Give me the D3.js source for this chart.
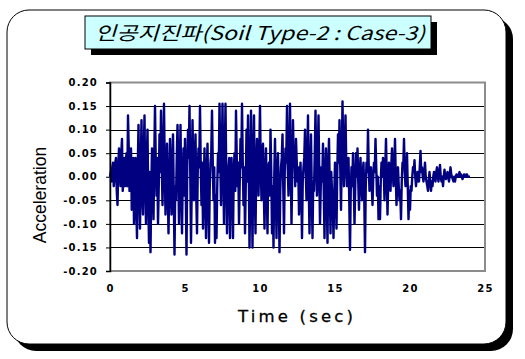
<!DOCTYPE html>
<html><head><meta charset="utf-8">
<script src="https://cdn.jsdelivr.net/npm/d3@7"></script>
<style>
html,body{margin:0;padding:0;background:#fff;}
svg{display:block;}
</style></head>
<body>
<svg id="c" width="525" height="359"></svg>
<script>
// ---- data ----
const titleText = "인공지진파(Soil Type-2 : Case-3)";
const xLabel = "Time (sec)";
const yLabel = "Acceleration";
const xTicks = [0, 5, 10, 15, 20, 25];
const yTicks = [-0.20, -0.15, -0.10, -0.05, 0.00, 0.05, 0.10, 0.15, 0.20];
const dt = 0.05; // seconds between samples
const accel = [
  // 0 s
  0.00, 0.01, -0.01, 0.02, 0.03, -0.02, 0.00, 0.03, 0.04, -0.03, -0.06, 0.02, 0.06, 0.03, -0.02, 0.05, 0.08, -0.03, 0.01, 0.04,
  // 1 s
  -0.02, 0.03, 0.05, -0.02, 0.13, 0.06, -0.03, 0.02, 0.06, -0.07, -0.05, 0.04, -0.10, -0.04, 0.04, -0.06, -0.13, 0.02, 0.11, -0.03,
  // 2 s
  -0.11, 0.02, 0.12, -0.04, -0.08, 0.05, 0.13, -0.02, -0.10, 0.03, 0.10, -0.05, -0.14, 0.01, -0.16, -0.03, 0.06, 0.02, -0.09, 0.04,
  // 3 s
  0.15, 0.03, -0.04, 0.04, -0.10, -0.02, 0.09, 0.01, 0.14, 0.03, -0.06, 0.04, 0.155, 0.02, -0.08, -0.01, 0.07, -0.03, -0.12, -0.02,
  // 4 s
  0.08, -0.01, -0.08, 0.03, 0.09, -0.04, -0.165, -0.02, -0.05, 0.04, 0.11, 0.02, -0.10, 0.01, 0.11, -0.03, -0.12, 0.00, 0.06, -0.04,
  // 5 s
  0.08, -0.03, -0.165, 0.02, 0.10, 0.04, 0.15, 0.01, -0.14, -0.02, 0.12, 0.03, -0.05, 0.02, 0.09, -0.04, -0.12, 0.01, 0.06, 0.02,
  // 6 s
  0.15, 0.02, -0.06, 0.03, -0.11, -0.03, 0.06, -0.04, -0.13, 0.01, 0.07, -0.05, -0.14, -0.02, 0.03, 0.05, 0.14, 0.03, -0.05, 0.02,
  // 7 s
  -0.14, -0.04, -0.13, -0.02, 0.05, 0.01, 0.155, 0.04, -0.06, 0.03, 0.155, 0.02, -0.10, 0.04, 0.155, 0.01, -0.12, -0.03, 0.02, 0.04,
  // 8 s
  -0.13, -0.03, 0.04, -0.02, -0.13, 0.01, 0.05, -0.03, 0.14, 0.04, -0.02, 0.03, -0.10, -0.01, 0.08, 0.02, 0.155, 0.03, -0.06, 0.02,
  // 9 s
  -0.12, -0.02, 0.10, -0.01, 0.13, 0.02, -0.15, -0.03, 0.14, 0.01, -0.15, 0.03, 0.13, -0.02, -0.12, 0.02, 0.08, 0.03, -0.04, 0.05,
  // 10 s
  0.15, 0.02, -0.05, 0.03, 0.07, -0.02, -0.11, 0.01, 0.06, -0.03, -0.12, 0.02, 0.03, -0.04, 0.10, 0.01, -0.12, -0.02, -0.15, 0.00,
  // 11 s
  0.08, -0.02, -0.13, 0.01, 0.05, -0.04, -0.16, -0.03, 0.02, 0.04, 0.09, -0.02, -0.12, 0.01, 0.06, 0.03, 0.15, 0.02, -0.04, 0.05,
  // 12 s
  0.155, 0.02, -0.10, 0.01, 0.12, 0.03, 0.04, -0.02, 0.08, 0.03, -0.01, 0.02, -0.08, -0.02, 0.03, -0.03, -0.13, -0.01, 0.02, 0.04,
  // 13 s
  0.10, 0.01, -0.05, 0.04, 0.13, -0.02, -0.12, 0.01, 0.09, -0.03, -0.13, -0.01, -0.03, 0.05, 0.14, 0.02, -0.04, 0.04, 0.13, 0.01,
  // 14 s
  -0.10, -0.02, 0.02, -0.01, 0.07, -0.03, -0.13, 0.01, 0.06, -0.04, -0.14, 0.02, 0.08, -0.02, -0.12, 0.01, -0.03, -0.06, -0.13, -0.04,
  // 15 s
  0.03, -0.03, -0.11, 0.01, 0.09, 0.03, 0.12, 0.02, -0.07, 0.04, 0.16, 0.05, -0.02, 0.06, 0.13, 0.03, -0.02, 0.01, 0.04, -0.05,
  // 16 s
  -0.155, -0.03, 0.02, -0.02, 0.05, -0.01, -0.10, -0.02, 0.05, 0.00, 0.06, -0.01, -0.07, 0.01, 0.04, -0.02, -0.05, 0.01, 0.03, -0.04,
  // 17 s
  -0.16, -0.02, 0.03, 0.01, 0.10, 0.02, -0.03, 0.00, 0.02, -0.02, -0.06, 0.00, 0.03, 0.01, 0.08, 0.02, -0.04, 0.00, -0.09, -0.02,
  // 18 s
  -0.09, -0.01, 0.03, 0.00, 0.04, 0.01, -0.05, 0.02, 0.08, 0.00, -0.08, -0.01, 0.03, 0.00, -0.03, 0.02, 0.06, 0.01, -0.02, 0.02,
  // 19 s
  0.08, 0.00, -0.06, -0.01, 0.02, -0.02, -0.05, -0.03, -0.09, -0.01, 0.03, 0.02, 0.08, 0.01, -0.02, 0.01, 0.05, -0.02, -0.09, -0.03,
  // 20 s
  -0.07, -0.02, -0.03, 0.00, 0.02, 0.01, 0.035, 0.00, -0.02, 0.00, 0.01, -0.01, -0.01, 0.02, 0.055, 0.01, 0.02, 0.00, -0.01, 0.01,
  // 21 s
  0.03, 0.00, -0.01, -0.02, -0.03, -0.01, 0.01, -0.01, -0.03, -0.01, -0.02, 0.00, 0.01, 0.00, -0.01, 0.01, 0.02, 0.00, -0.01, 0.01,
  // 22 s
  0.025, 0.00, -0.01, 0.00, -0.02, 0.00, 0.015, 0.00, -0.005, 0.005, 0.01, 0.00, -0.01, 0.005, 0.02, 0.005, 0.00, -0.005, -0.01, 0.00,
  // 23 s
  -0.01, 0.00, 0.005, 0.00, 0.00, 0.005, 0.01, 0.00, 0.005, 0.00, -0.005, 0.00, 0.005, 0.00, 0.00, 0.005, 0.005, 0.00, 0.00, 0.00,
  // 24 s
  0.00
];

// ---- drawing ----
const svg = d3.select("#c");

// outer frame with shadow
const frame = {x: 7, y: 10, w: 499, h: 334, r: 22, off: 7};
svg.append("rect").attr("x", frame.x + frame.off).attr("y", frame.y + frame.off)
  .attr("width", frame.w).attr("height", frame.h).attr("rx", frame.r).attr("fill", "#000");
svg.append("rect").attr("x", frame.x).attr("y", frame.y)
  .attr("width", frame.w).attr("height", frame.h).attr("rx", frame.r)
  .attr("fill", "#fff").attr("stroke", "#000").attr("stroke-width", 1);

// title box with shadow
const tb = {x: 85, y: 16, w: 346, h: 33, off: 6};
svg.append("rect").attr("x", tb.x + tb.off).attr("y", tb.y + tb.off)
  .attr("width", tb.w).attr("height", tb.h).attr("fill", "#000");
svg.append("rect").attr("x", tb.x).attr("y", tb.y)
  .attr("width", tb.w).attr("height", tb.h)
  .attr("fill", "#ccffff").attr("stroke", "#000").attr("stroke-width", 1);
svg.append("text").attr("x", tb.x + 10).attr("y", tb.y + 24)
  .attr("textLength", 330).attr("lengthAdjust", "spacingAndGlyphs")
  .attr("font-family", "'Noto Sans CJK KR', 'DejaVu Sans', sans-serif")
  .attr("font-style", "italic").attr("font-size", 19).attr("fill", "#000")
  .text(titleText);

// scales
const x = d3.scaleLinear().domain([0, 25]).range([110, 485]);
const y = d3.scaleLinear().domain([-0.2, 0.2]).range([271, 82.5]);

// gridlines
svg.append("g").selectAll("line")
  .data(yTicks.filter(v => Math.abs(v) < 0.19))
  .join("line")
  .attr("x1", x(0)).attr("x2", x(25))
  .attr("y1", d => Math.round(y(d)) + 0.5).attr("y2", d => Math.round(y(d)) + 0.5)
  .attr("stroke", "#000").attr("stroke-width", 1);

// plot border (grey)
svg.append("rect").attr("x", x(0)).attr("y", y(0.2))
  .attr("width", x(25) - x(0)).attr("height", y(-0.2) - y(0.2))
  .attr("fill", "none").attr("stroke", "#8c8c8c").attr("stroke-width", 2);

// series
const pts = accel.map((v, i) => [i * dt, v]);
const line = d3.line().x(d => x(d[0])).y(d => y(d[1]));
svg.append("path").datum(pts)
  .attr("d", line).attr("fill", "none")
  .attr("stroke", "#000080").attr("stroke-width", 2.4).attr("stroke-linejoin", "round");

// y axis
const fmt = v => (v < 0 ? "-" : "") + Math.abs(v).toFixed(2);
const yAxis = svg.append("g").attr("transform", `translate(${x(0)},0)`)
  .call(d3.axisLeft(y).tickValues(yTicks).tickSize(4).tickPadding(8).tickFormat(fmt));
yAxis.select(".domain").attr("stroke", "#000").attr("stroke-width", 1.5);
yAxis.selectAll(".tick line").attr("stroke", "#000");
yAxis.selectAll("text")
  .attr("font-family", "'DejaVu Sans', sans-serif").attr("font-weight", "bold")
  .attr("font-size", 10).attr("letter-spacing", 1.2).attr("fill", "#000");

// x axis
const xAxis = svg.append("g").attr("transform", `translate(0,${y(-0.2)})`)
  .call(d3.axisBottom(x).tickValues(xTicks).tickSize(0).tickPadding(14).tickFormat(d3.format("d")));
xAxis.select(".domain").remove();
xAxis.selectAll("text")
  .attr("font-family", "'DejaVu Sans', sans-serif").attr("font-weight", "bold")
  .attr("font-size", 10).attr("letter-spacing", 1.2).attr("fill", "#000");

// axis titles
svg.append("text").attr("x", 238).attr("y", 322)
  .attr("textLength", 115).attr("lengthAdjust", "spacing")
  .attr("font-family", "'DejaVu Sans', sans-serif").attr("font-size", 16.5)
  .attr("fill", "#000").attr("stroke", "#000").attr("stroke-width", 0.3).text(xLabel);
svg.append("text").attr("transform", "translate(46,195) rotate(-90)").attr("text-anchor", "middle")
  .attr("font-family", "'Liberation Sans', Arial, sans-serif").attr("font-size", 17.5)
  .attr("fill", "#000").text(yLabel);
</script>
</body></html>
